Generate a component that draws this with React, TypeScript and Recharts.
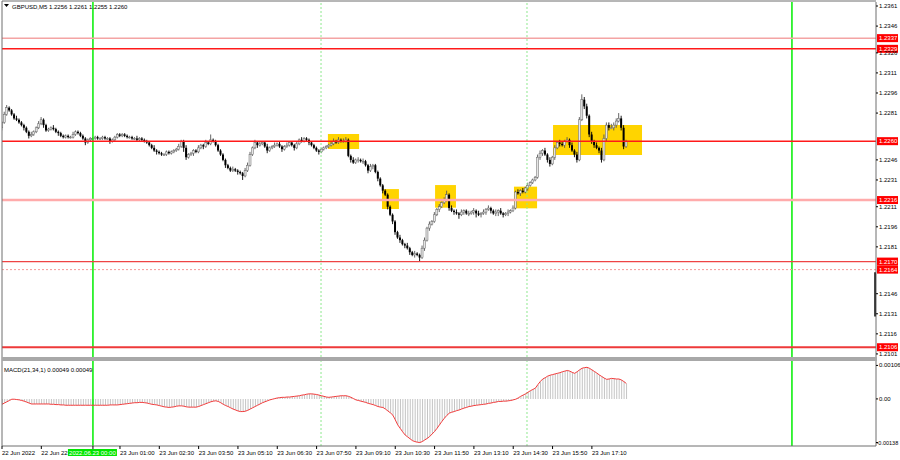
import {
  Bar,
  ComposedChart,
  Line,
  ReferenceArea,
  ReferenceLine,
  XAxis,
  YAxis,
} from "recharts";

// GBPUSD M5, one bar every 5 minutes from 22 Jun 21:00
// closes in pips above 1.2200
const closes = [
  74, 80, 85, 83, 80, 77, 76, 74, 72, 70,
  67, 64, 65, 67, 70, 73, 76, 72, 68, 69,
  70, 69, 67, 66, 64, 63, 64, 63, 63, 65,
  67, 66, 64, 62, 59, 61, 62, 62, 63, 62,
  62, 63, 62, 62, 60, 61, 63, 65, 64, 65,
  64, 63, 63, 62, 62, 61, 62, 61, 60, 59,
  57, 55, 53, 52, 51, 50, 50, 52, 51, 52,
  53, 54, 56, 60, 55, 48, 50, 51, 53, 52,
  55, 57, 56, 59, 58, 61, 60, 57, 53, 50,
  46, 42, 40, 38, 39, 38, 37, 36, 34, 38,
  42, 50, 55, 59, 57, 58, 59, 56, 53, 55,
  56, 57, 58, 56, 54, 56, 57, 59, 57, 55,
  58, 61, 60, 62, 61, 59, 57, 55, 53, 52,
  54, 55, 56, 57, 58, 60, 59, 61, 60, 60,
  61, 49, 46, 44, 46, 46, 45, 45, 42, 38,
  41, 42, 37, 32, 27, 23, 20, 11, 5, 0,
  -8, -12, -14, -17, -18, -20, -23, -25, -24, -25,
  -27, -20, -14, -5, -2, 0, 5, 9, 11, 14,
  16, 20, 10, 8, 7, 6, 5, 7, 8, 6,
  6, 7, 8, 6, 5, 6, 7, 9, 10, 8,
  6, 7, 8, 6, 5, 6, 7, 8, 10, 22,
  21, 23, 22, 25, 27, 29, 31, 33, 48, 51,
  53, 50, 46, 43, 48, 55, 59, 58, 57, 60,
  61, 57, 53, 50, 46, 76, 91, 86, 79, 65,
  60, 57, 55, 53, 46, 62, 72, 70, 70, 72,
  75, 77, 70, 56, 60,
];

const wickUp = [
  1, 2, 2, 1, 1, 1, 2, 1, 1, 1, 1, 1, 2, 1, 1, 2, 2, 1, 1, 1,
  1, 2, 1, 1, 1, 1, 1, 1, 1, 2, 1, 1, 1, 1, 1, 1, 1, 1, 1, 1,
  1, 1, 1, 1, 1, 1, 1, 1, 1, 1, 1, 1, 1, 1, 1, 2, 1, 1, 1, 1,
  1, 1, 2, 1, 1, 1, 1, 1, 1, 1, 1, 1, 2, 1, 1, 2, 1, 1, 1, 1,
  2, 1, 1, 2, 1, 4, 1, 1, 1, 1, 1, 1, 1, 1, 2, 1, 1, 1, 1, 2,
  2, 2, 1, 2, 1, 2, 1, 1, 2, 1, 1, 2, 1, 2, 1, 1, 2, 1, 1, 1,
  2, 1, 2, 1, 1, 1, 1, 1, 1, 1, 1, 1, 1, 1, 2, 2, 1, 2, 1, 2,
  2, 1, 1, 2, 1, 2, 1, 2, 1, 1, 2, 1, 1, 1, 1, 1, 1, 1, 1, 1,
  1, 1, 2, 1, 1, 2, 1, 1, 2, 1, 1, 2, 2, 1, 2, 1, 2, 1, 2, 1,
  2, 3, 1, 2, 1, 2, 1, 2, 1, 1, 2, 1, 2, 1, 2, 1, 2, 1, 2, 1,
  1, 2, 1, 2, 1, 1, 2, 1, 2, 1, 2, 1, 2, 1, 2, 1, 1, 1, 2, 2,
  1, 2, 1, 2, 1, 2, 1, 2, 2, 1, 2, 1, 2, 1, 2, 2, 4, 2, 2, 1,
  2, 1, 2, 1, 2, 3, 2, 2, 3, 2, 2, 4, 2, 2, 1,
];

const wickDn = [
  2, 1, 1, 1, 1, 1, 1, 1, 1, 2, 1, 2, 1, 1, 1, 1, 1, 2, 1, 1,
  1, 1, 1, 2, 1, 1, 1, 1, 1, 1, 1, 1, 1, 1, 2, 1, 1, 1, 1, 1,
  1, 1, 1, 1, 2, 1, 1, 1, 1, 1, 1, 1, 1, 1, 1, 1, 1, 1, 1, 1,
  1, 1, 1, 2, 1, 1, 1, 1, 1, 1, 1, 1, 1, 1, 3, 2, 1, 1, 2, 1,
  1, 1, 2, 1, 1, 1, 1, 1, 1, 1, 1, 2, 1, 1, 1, 1, 2, 1, 3, 1,
  1, 1, 1, 1, 2, 1, 1, 1, 2, 1, 1, 1, 1, 1, 2, 1, 1, 1, 1, 2,
  1, 1, 1, 1, 1, 2, 1, 1, 1, 2, 1, 1, 1, 1, 1, 1, 1, 1, 1, 1,
  1, 1, 2, 1, 1, 2, 1, 2, 1, 2, 1, 2, 1, 2, 1, 2, 1, 2, 1, 2,
  2, 1, 2, 1, 2, 1, 2, 1, 2, 1, 3, 1, 2, 1, 2, 1, 1, 1, 2, 1,
  1, 1, 2, 1, 2, 1, 3, 1, 2, 1, 2, 1, 2, 3, 1, 2, 1, 2, 1, 2,
  1, 2, 3, 1, 2, 1, 2, 1, 1, 1, 1, 2, 1, 1, 2, 1, 1, 1, 1, 2,
  2, 1, 2, 2, 1, 2, 1, 2, 1, 2, 1, 2, 1, 2, 2, 1, 1, 2, 2, 2,
  2, 2, 1, 2, 2, 1, 2, 2, 1, 2, 2, 1, 2, 2, 1,
];

// MACD(21,34,1) in units of 0.00001
const macd = [
  -17, -13, -9, -5, -1, -1, -2, -3, -5, -7,
  -10, -13, -16, -16, -16, -16, -16, -16, -16, -16,
  -17, -17, -18, -18, -19, -19, -20, -20, -20, -20,
  -20, -20, -20, -20, -20, -20, -20, -20, -20, -20,
  -20, -20, -20, -20, -19, -19, -19, -19, -18, -17,
  -16, -15, -14, -13, -12, -12, -11, -11, -12, -13,
  -15, -17, -18, -19, -21, -23, -25, -26, -27, -26,
  -25, -23, -22, -22, -23, -25, -26, -26, -26, -26,
  -24, -21, -18, -15, -12, -9, -7, -6, -8, -12,
  -17, -21, -24, -28, -32, -35, -38, -40, -40, -39,
  -36, -32, -28, -24, -20, -16, -12, -9, -6, -3,
  -1, 1, 3, 4, 5, 5, 6, 6, 7, 8,
  9, 10, 12, 13, 15, 16, 16, 15, 14, 12,
  10, 8, 6, 5, 6, 7, 8, 9, 10, 10,
  10, 8, 5, 1, -3, -5, -7, -9, -11, -14,
  -16, -18, -21, -24, -26, -27, -32, -38, -44, -51,
  -66, -82, -93, -104, -114, -120, -126, -132, -135, -137,
  -138, -135, -130, -125, -119, -111, -103, -93, -82, -71,
  -61, -52, -45, -42, -40, -37, -35, -32, -29, -27,
  -24, -23, -21, -20, -19, -18, -17, -16, -14, -13,
  -11, -10, -8, -8, -7, -7, -6, -5, -3, -1,
  3, 8, 12, 16, 21, 26, 30, 34, 45, 55,
  63, 67, 72, 75, 77, 79, 81, 83, 86, 88,
  90, 88, 84, 81, 86, 92, 97, 99, 100, 97,
  92, 87, 82, 76, 71, 66, 62, 63, 65, 64,
  63, 63, 60, 55, 49,
];

const priceTicks = [
  1.2361, 1.2346, 1.2326, 1.2311, 1.2296, 1.2281, 1.2246, 1.2231,
  1.2211, 1.2196, 1.2181, 1.2146, 1.2131, 1.2116, 1.2101,
];
const levels = [1.2337, 1.2329, 1.226, 1.2216, 1.217, 1.2164, 1.2106];
const macdTicks = [0.00106, 0, -0.00138];
const macdTickText = ["0.00106", "0.00", "-0.00138"];

const timeTicks = [0, 16, 48, 64, 80, 96, 112, 128, 144, 160, 176, 192, 208, 224, 240];
const timeLabels = [
  "22 Jun 2022", "22 Jun 22:20", "23 Jun 01:00",
  "23 Jun 02:30", "23 Jun 03:50", "23 Jun 05:10", "23 Jun 06:30",
  "23 Jun 07:50", "23 Jun 09:10", "23 Jun 10:30", "23 Jun 11:50",
  "23 Jun 13:10", "23 Jun 14:30", "23 Jun 15:50", "23 Jun 17:10",
];
const dayStart = 37; // 2022.06.23 00:00
const dayEnd = 321.4;
const sessionMarks = [129.8, 213.6];

// [fromBar, toBar, lowPrice, highPrice]
const zones = [
  [132.6, 145.3, 1.22541, 1.22653],
  [154.6, 161.5, 1.22093, 1.22242],
  [176.2, 184.7, 1.22103, 1.22272],
  [208.3, 217.7, 1.22098, 1.2226],
  [224.2, 260.4, 1.22496, 1.22721],
];

const levelStyle = [
  { stroke: "#f4a4a4", width: 1.5, dash: undefined },
  { stroke: "#ff1a1a", width: 1.5, dash: undefined },
  { stroke: "#ff1a1a", width: 1.5, dash: undefined },
  { stroke: "#ffabab", width: 2.5, dash: undefined },
  { stroke: "#ee4444", width: 1.2, dash: undefined },
  { stroke: "#f49a9a", width: 1, dash: "2 2" },
  { stroke: "#ee3a3a", width: 2, dash: undefined },
];

const FONT = '"Liberation Sans", Arial, sans-serif';
const X_DOMAIN = [0, 355.6];
const px = (v: number) => 1.22 + v / 10000;

const candles = closes.map((c, i) => {
  const o = i === 0 ? 70 : closes[i - 1];
  const h = Math.max(o, c) + wickUp[i];
  const l = Math.min(o, c) - wickDn[i];
  return { i, o: px(o), c: px(c), h: px(h), l: px(l), range: [px(l), px(h)] };
});

const macdData = macd.map((v, i) => ({ i, m: v / 100000 }));

const Candle = (props: any) => {
  const { x, width, y, height, payload } = props;
  const top = Math.min(y, y + height);
  const hh = Math.abs(height);
  const cx = x + width / 2;
  const { o, c, h, l } = payload;
  const k = hh / (h - l);
  const yO = top + (h - o) * k;
  const yC = top + (h - c) * k;
  const bear = c < o;
  const bodyTop = Math.min(yO, yC);
  const bodyH = Math.max(Math.abs(yC - yO), 0.8);
  return (
    <g>
      <line x1={cx} x2={cx} y1={top} y2={top + hh} stroke={bear ? "#000" : "#555"} strokeWidth={0.9} />
      <rect
        x={cx - 1}
        y={bodyTop}
        width={2}
        height={bodyH}
        fill={bear ? "#000" : "#e6e6e6"}
        stroke={bear ? "none" : "#666"}
        strokeWidth={0.5}
      />
    </g>
  );
};

const PriceTick = (props: any) => {
  const { x, y, payload } = props;
  return (
    <text x={x} y={y + 2} fontSize={6} fill="#000" fontFamily={FONT}>
      {payload.value.toFixed(4)}
    </text>
  );
};

const MacdTick = (props: any) => {
  const { x, y, payload } = props;
  const idx = macdTicks.indexOf(payload.value);
  return (
    <text x={payload.value < 0 ? x - 2.5 : x} y={y + 2} fontSize={idx === 2 ? 5.5 : 6} fill="#000" fontFamily={FONT}>
      {macdTickText[idx]}
    </text>
  );
};

const TimeTick = (props: any) => {
  const { x, y, payload } = props;
  if (payload.value === dayStart) {
    return (
      <g>
        <rect x={x - 25} y={y} width={49} height={7} fill="#00e600" />
        <text x={x - 0.5} y={y + 6} fontSize={6} fill="#fff" textAnchor="middle" fontFamily={FONT}>
          2022.06.23 00:00
        </text>
      </g>
    );
  }
  const k = timeTicks.indexOf(payload.value);
  return (
    <text x={x} y={y + 6} fontSize={6} fill="#000" fontFamily={FONT}>
      {timeLabels[k]}
    </text>
  );
};

const LevelTag = (props: any) => {
  const { viewBox, text } = props;
  const x = viewBox.x + viewBox.width + 1;
  return (
    <g>
      <rect x={x} y={viewBox.y - 4} width={21} height={8} fill="#ff0000" />
      <text x={x + 2} y={viewBox.y + 2.2} fontSize={6} fill="#fff" fontFamily={FONT}>
        {text}
      </text>
    </g>
  );
};

const verticalMarks = () => [
  <ReferenceLine key="d0" x={dayStart} stroke="#00ee00" strokeWidth={1.5} />,
  <ReferenceLine key="d1" x={dayEnd} stroke="#00ee00" strokeWidth={1.5} />,
  ...sessionMarks.map((s) => (
    <ReferenceLine key={"s" + s} x={s} stroke="#8ee88e" strokeDasharray="2 2" />
  )),
];

export default function App() {
  return (
    <div
      style={{
        position: "fixed",
        left: 0,
        top: 0,
        width: 900,
        height: 460,
        background: "#fff",
        fontFamily: FONT,
        overflow: "hidden",
      }}
    >
      <div style={{ position: "absolute", left: 0, top: 0 }}>
        <ComposedChart
          width={900}
          height={359}
          data={candles}
          margin={{ top: 2, right: 0, bottom: 2, left: 2 }}
        >
          <XAxis dataKey="i" type="number" domain={X_DOMAIN} allowDataOverflow hide />
          <YAxis
            orientation="right"
            width={24}
            domain={[1.20987, 1.2364]}
            allowDataOverflow
            ticks={priceTicks}
            interval={0}
            tick={PriceTick}
            tickSize={2}
            tickMargin={1}
            tickLine={{ stroke: "#000" }}
            axisLine={{ stroke: "#6e6e6e" }}
          />
          {zones.map((z, k) => (
            <ReferenceArea
              key={"z" + k}
              x1={z[0]}
              x2={z[1]}
              y1={z[2]}
              y2={z[3]}
              fill="#ffd400"
              fillOpacity={1}
              stroke="none"
            />
          ))}
          {verticalMarks()}
          <Bar dataKey="range" barSize={2} shape={Candle} isAnimationActive={false} />
          {levels.map((lv, k) => (
            <ReferenceLine
              key={"l" + lv}
              y={lv}
              stroke={levelStyle[k].stroke}
              strokeWidth={levelStyle[k].width}
              strokeDasharray={levelStyle[k].dash}
              label={<LevelTag text={lv.toFixed(4)} />}
            />
          ))}
          <ReferenceArea
            x1={354.9}
            x2={355.6}
            y1={1.2129}
            y2={1.2162}
            fill="#000"
            fillOpacity={1}
            stroke="none"
          />
        </ComposedChart>
      </div>

      <div style={{ position: "absolute", left: 0, top: 359 }}>
        <ComposedChart
          width={900}
          height={101}
          data={macdData}
          margin={{ top: 2, right: 0, bottom: 0, left: 2 }}
        >
          <XAxis
            dataKey="i"
            type="number"
            domain={X_DOMAIN}
            allowDataOverflow
            ticks={[...timeTicks, dayStart]}
            interval={0}
            tick={TimeTick}
            tickSize={3}
            tickMargin={0}
            tickLine={{ stroke: "#000" }}
            axisLine={{ stroke: "#6e6e6e" }}
            height={14}
          />
          <YAxis
            orientation="right"
            width={24}
            domain={[-0.00149, 0.0012]}
            allowDataOverflow
            ticks={macdTicks}
            interval={0}
            tick={MacdTick}
            tickSize={2}
            tickMargin={1}
            tickLine={{ stroke: "#000" }}
            axisLine={{ stroke: "#6e6e6e" }}
          />
          {verticalMarks()}
          <Bar dataKey="m" fill="#c4c4c4" barSize={1} isAnimationActive={false} />
          <Line
            dataKey="m"
            type="linear"
            stroke="#f23c3c"
            strokeWidth={1}
            dot={false}
            isAnimationActive={false}
          />
        </ComposedChart>
      </div>

      <svg
        width={900}
        height={460}
        style={{ position: "absolute", left: 0, top: 0, pointerEvents: "none" }}
      >
        <line x1={2} x2={876} y1={1} y2={1} stroke="#6e6e6e" />
        <line x1={2} x2={2} y1={1} y2={446} stroke="#6e6e6e" />
        <rect x={2} y={357} width={875} height={4} fill="#a8a8a8" />
        <path d="M4 4 L9 4 L6.5 7 Z" fill="#000" />
        <text x={12} y={8.5} fontSize={6} fill="#000" fontFamily={FONT}>
          GBPUSD,M5  1.2256 1.2261 1.2255 1.2260
        </text>
        <text x={4} y={372} fontSize={6} fill="#000" fontFamily={FONT}>
          MACD(21,34,1) 0.00049 0.00049
        </text>
      </svg>
    </div>
  );
}
